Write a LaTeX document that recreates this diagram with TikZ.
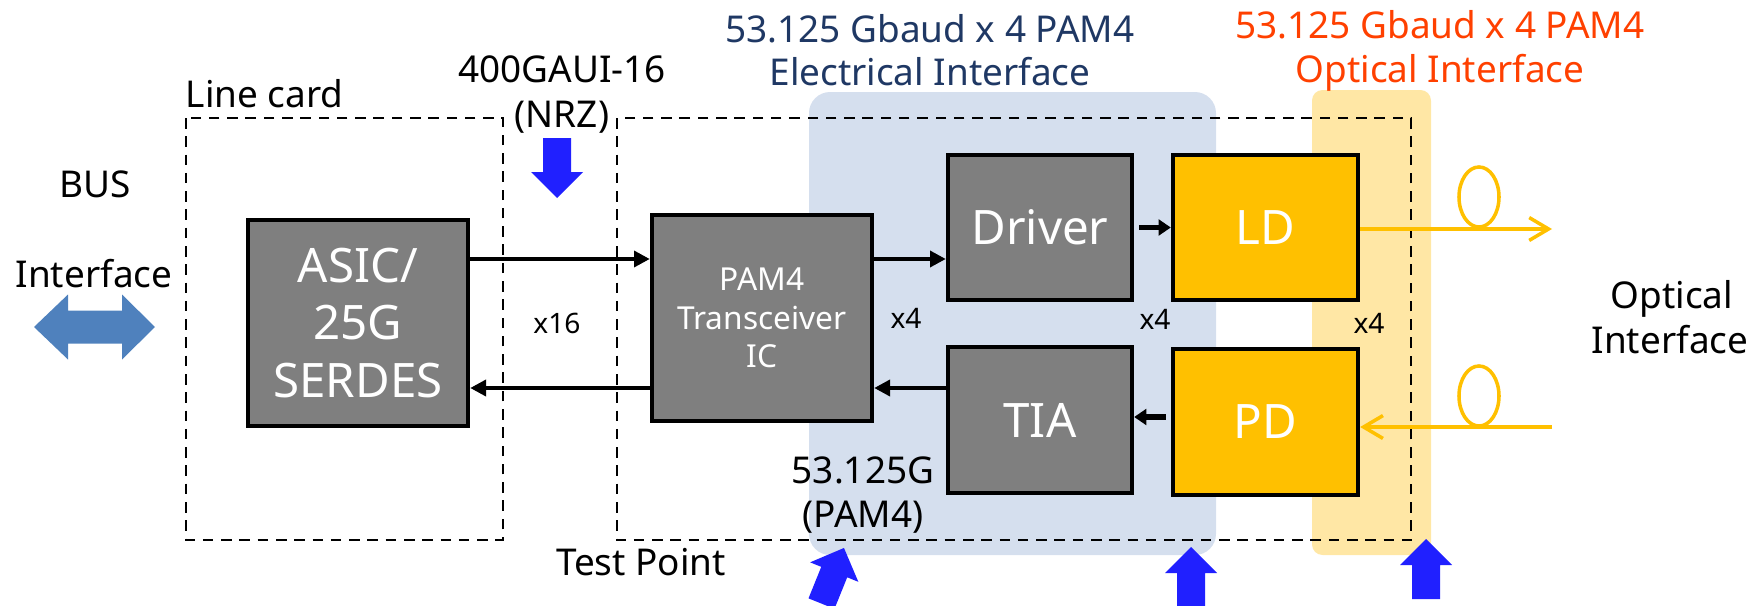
\documentclass[tikz,border=0pt]{standalone}
\usepackage{fontspec}
\setmainfont{Noto Sans}
\usetikzlibrary{arrows.meta}

\definecolor{boxgray}{RGB}{127,127,127}
\definecolor{ldyellow}{RGB}{255,192,0}
\definecolor{elecbg}{RGB}{213,223,238}
\definecolor{optbg}{RGB}{255,231,165}
\definecolor{navy}{RGB}{31,56,100}
\definecolor{optred}{RGB}{255,64,0}
\definecolor{tpblue}{RGB}{32,32,255}
\definecolor{busblue}{RGB}{79,129,189}

\begin{document}
\begin{tikzpicture}[x=0.01cm,y=-0.01cm,
  blk/.style={draw=black,line width=1.2pt,fill=boxgray,text=white,align=center,inner sep=0pt},
  big/.style={font=\fontsize{13.5}{16.3}\selectfont},
  sig/.style={line width=1.1pt,-{Triangle[length=4.5pt,width=4.5pt]}},
  hop/.style={line width=1.6pt,-{Triangle[length=3.5pt,width=4.5pt]},shorten <=1.5pt},
  fib/.style={draw=ldyellow,line width=1pt},
  lbl/.style={font=\fontsize{10.5}{12}\selectfont,anchor=base,inner sep=0pt},
  cnt/.style={font=\fontsize{8}{10}\selectfont,anchor=base,inner sep=0pt},
  tpframe/.style={line width=0.5pt,dash pattern=on 3pt off 2.2pt}]
\useasboundingbox (0,0) rectangle (1762,606);

% backgrounds
\fill[elecbg,rounded corners=6pt] (809,92) rectangle (1216,555);
\fill[optbg,rounded corners=3pt] (1312,90) rectangle (1431,555);

% line card / module outlines
\draw[tpframe] (186,118) rectangle (503,540);
\draw[tpframe] (617,118) rectangle (1411,540);

% blocks
\node[blk,big,minimum width=2.2cm,minimum height=2.06cm] (asic) at (358,323) {ASIC/\\25G\\SERDES};
\node[blk,font=\fontsize{9}{11}\selectfont,minimum width=2.2cm,minimum height=2.06cm] (pam) at (762,318) {PAM4\\Transceiver\\IC};
\node[blk,big,minimum width=1.84cm,minimum height=1.45cm] (drv) at (1040,227.5) {Driver};
\node[blk,big,fill=ldyellow,minimum width=1.85cm,minimum height=1.45cm] (ld) at (1265.5,227.5) {LD};
\node[blk,big,minimum width=1.84cm,minimum height=1.46cm] (tia) at (1040,420) {TIA};
\node[blk,big,fill=ldyellow,minimum width=1.85cm,minimum height=1.46cm] (pd) at (1265.5,422) {PD};

% electrical lanes
\coordinate (up) at (0,259);
\coordinate (dn) at (0,388);
\coordinate (rx) at (0,417);
\draw[sig] (asic.east |- up) -- (pam.west |- up);
\draw[sig] (pam.west |- dn) -- (asic.east |- dn);
\draw[sig] (pam.east |- up) -- (drv.west |- up);
\draw[sig] (tia.west |- dn) -- (pam.east |- dn);
\draw[hop] (drv.east) -- (ld.west);
\draw[hop] (pd.west |- rx) -- (tia.east |- rx);

% fibres
\coordinate (txend) at (1552,229);
\coordinate (rxend) at (1552,427);
\draw[fib,-{Straight Barb[length=5.5pt,width=6.5pt]}] (ld.east |- txend) -- (txend);
\draw[fib,-{Straight Barb[length=5.5pt,width=6.5pt]}] (rxend) -- (pd.east |- rxend);
\draw[fib] (1479,197) ellipse [x radius=0.2cm,y radius=0.3cm];
\draw[fib] (1479,396) ellipse [x radius=0.2cm,y radius=0.3cm];

% bus arrow
\fill[busblue] (34,327) -- (68,294.5) -- (68,310.5) -- (122,310.5) -- (122,294.5) -- (155,327)
  -- (122,359.5) -- (122,343.5) -- (68,343.5) -- (68,359.5) -- cycle;

% test point arrows
\foreach \px/\py/\ang in {557/138/-90, 1191/607/90, 1426/599/90, 821.5/603.6/68}{
  \begin{scope}[shift={(\px,\py)},rotate=\ang,x=0.01cm,y=0.01cm]
    \fill[tpblue] (0,-14) -- (34,-14) -- (34,-26) -- (60,0) -- (34,26) -- (34,14) -- (0,14) -- cycle;
  \end{scope}
}

% labels
\node[lbl] (bus) at (95,197) {BUS};
\node[lbl] (busif) at (94,287) {Interface};
\node[lbl,anchor=base west] (lc) at (185,107) {Line card};
\node[lbl] (gaui) at (562,82) {400GAUI-16};
\node[lbl] (nrz) at (562,127) {(NRZ)};
\node[lbl,text=navy] (el1) at (930,42) {53.125 Gbaud x 4 PAM4};
\node[lbl,text=navy] (el2) at (930,85) {Electrical Interface};
\node[lbl,text=optred] (op1) at (1440,38) {53.125 Gbaud x 4 PAM4};
\node[lbl,text=optred] (op2) at (1440,82) {Optical Interface};
\node[lbl] (oif1) at (1672,308) {Optical};
\node[lbl] (oif2) at (1670,353) {Interface};
\node[cnt] (n16) at (557,333) {x16};
\node[cnt] (n4a) at (906,328) {x4};
\node[cnt] (n4b) at (1155,330) {x4};
\node[cnt] (n4c) at (1369,333) {x4};
\node[lbl] (rate) at (863,483) {53.125G};
\node[lbl] (pam4) at (863,527) {(PAM4)};
\node[lbl] (tp) at (641,575) {Test Point};
\end{tikzpicture}
\end{document}
